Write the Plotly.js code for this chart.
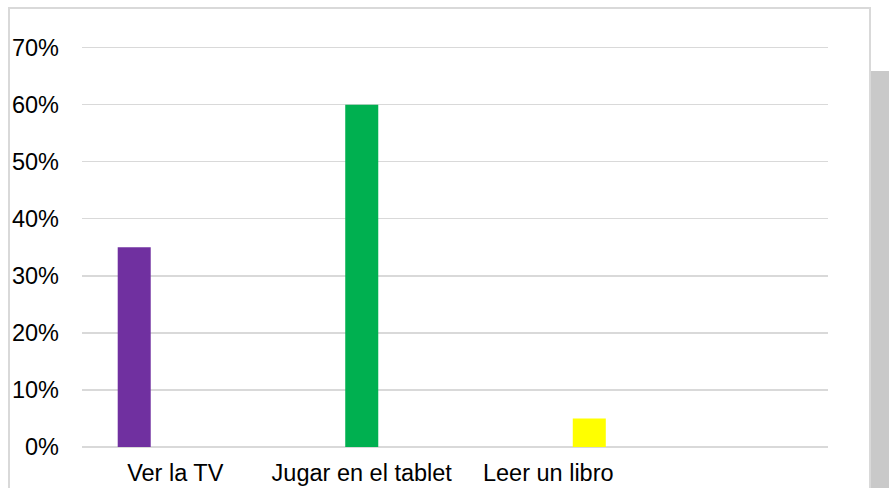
<!DOCTYPE html>
<html>
<head>
<meta charset="utf-8">
<script src="https://cdn.plot.ly/plotly-3.0.1.min.js"></script>
<style>
  html, body { margin: 0; padding: 0; background: #ffffff; }
  #chart { width: 889px; height: 488px; }
</style>
</head>
<body>
<div id="chart"></div>
<script>
// ---- data ----
const categories = ["Ver la TV", "Jugar en el tablet", "Leer un libro"];
const values = [0.35, 0.60, 0.05];
const seriesColors = ["#7030a0", "#00b050", "#ffff00"];
const yTicks = [0, 0.1, 0.2, 0.3, 0.4, 0.5, 0.6, 0.7];

// ---- layout helpers (pixel -> paper) ----
const W = 889, H = 488;
const M = { l: 82, r: 61, t: 42, b: 41 };
const PW = W - M.l - M.r, PH = H - M.t - M.b;
const px = x => (x - M.l) / PW;
const py = y => (H - M.b - y) / PH;

// one trace per category (clustered, like the original Excel chart)
const traces = categories.map((c, i) => ({
  type: "bar",
  x: categories,
  y: categories.map((_, j) => (j === i ? values[j] : null)),
  marker: { color: seriesColors[i] },
  hoverinfo: "x+y",
  showlegend: false
}));

const layout = {
  width: W, height: H,
  margin: M,
  paper_bgcolor: "#ffffff",
  plot_bgcolor: "#ffffff",
  font: { family: "Liberation Sans, Arial, sans-serif", size: 23.5, color: "#000000" },
  barmode: "group",
  bargap: 0.34,
  bargroupgap: 0.195,
  xaxis: {
    type: "category",
    range: [-0.5, 3.5],
    showgrid: false,
    zeroline: false,
    showline: false,
    ticks: "",
    ticklabelstandoff: 9,
    tickfont: { size: 23.5 },
    fixedrange: true
  },
  yaxis: {
    range: [0, 0.71],
    tickvals: yTicks,
    tickformat: ".0%",
    showgrid: true,
    gridcolor: "#d9d9d9",
    gridwidth: 1.3,
    zeroline: true,
    zerolinecolor: "#d9d9d9",
    zerolinewidth: 2,
    showline: false,
    ticks: "",
    ticklabelstandoff: 22,
    tickfont: { size: 23.5 },
    fixedrange: true
  },
  shapes: [
    { type: "rect", xref: "paper", yref: "paper", layer: "below",
      x0: px(9), x1: px(870), y0: py(8), y1: py(520),
      line: { color: "#d9d9d9", width: 2 }, fillcolor: "rgba(0,0,0,0)" },
    { type: "rect", xref: "paper", yref: "paper", layer: "above",
      x0: px(871), x1: px(895), y0: py(71), y1: py(495),
      line: { width: 0 }, fillcolor: "#c9c9c9" }
  ]
};

Plotly.newPlot("chart", traces, layout, { displayModeBar: false, staticPlot: true });
</script>
</body>
</html>
